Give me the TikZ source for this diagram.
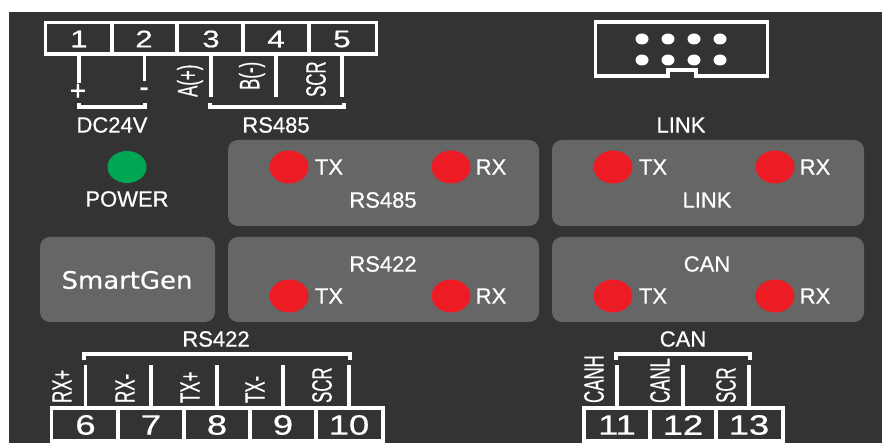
\documentclass[tikz,border=0pt]{standalone}
\usepackage{fontspec}
\setmainfont{Liberation Sans}[FakeBold=0.6]
\newfontfamily\logofont{DejaVu Sans}[FakeBold=0.5]
\definecolor{panelbg}{HTML}{333333}
\definecolor{panelgray}{HTML}{666666}
\definecolor{ledred}{HTML}{ED1C24}
\definecolor{ledgreen}{HTML}{00A651}
\tikzset{
    wire/.style={draw=white, line width=3.4pt},
    panel/.style={fill=panelgray, rounded corners=10pt},
    lbl/.style={text=white, font=\fontsize{22}{22}\selectfont, inner sep=0pt},
    digit/.style={text=white, inner sep=0pt, xscale=1.3},
    pinlbl/.style={text=white, font=\fontsize{28}{28}\selectfont, inner sep=0pt, rotate=90, anchor=west, xscale=.6}
}
\begin{document}
\begin{tikzpicture}[x=1pt, y=-1pt]
\useasboundingbox (0,0) rectangle (882,443);
\fill[white](0,0) rectangle (882,443);
\fill[panelbg](9,12) rectangle (882,443);

% top terminal
\draw[wire](45.5,22.5) rectangle (376.5,54);
\foreach \x in {112,177,243,309}
{
    \draw[wire](\x,22.5)--(\x,54);
}
\foreach \x/\n in {79/1,144/2,211/3,276/4,342/5}
{
    \node[digit, font=\fontsize{24}{24}\selectfont] (top\n) at (\x,39) {\n};
}
\draw[wire](79,54)--(79,83);
\draw[wire](144.5,54)--(144.5,81);
\draw[wire](79,103)--(79,107)--(145,107)--(145,103);
\node[lbl, font=\fontsize{28}{28}\selectfont] (plus) at (78,92) {+};
\node[lbl, font=\fontsize{28}{28}\selectfont] (minus) at (144,92) {-};
\node[lbl] (dcv) at (112,125) {DC24V};
\foreach \x in {211,276,342}
{
    \draw[wire](\x,54)--(\x,97);
}
\draw[wire](210,103)--(210,107)--(344,107)--(344,103);
\node[pinlbl] (ap) at (190,97) {A(+)};
\node[pinlbl] (bm) at (252,90) {B(-)};
\node[pinlbl] (scra) at (316,97) {SCR};
\node[lbl] (rsa) at (276,125) {RS485};

% link socket
\draw[wire](595.5,22) rectangle (767.5,76);
\draw[panelbg, line width=3.6pt](670,76)--(694,76);
\draw[wire](668,76)--(668,70)--(696,70)--(696,76);
\foreach \x in {642,668,694,720}
{
    \fill[white](\x,39) ellipse (6.5 and 5.5);
    \fill[white](\x,60) ellipse (6.5 and 5.5);
}
\node[lbl] (linka) at (681,125) {LINK};

% panels
\fill[panel](228,140) rectangle (539,226);
\fill[panel](552,140) rectangle (864,226);
\fill[panel](40,237) rectangle (215,322);
\fill[panel](228,237) rectangle (539,322);
\fill[panel](552,237) rectangle (864,322);

\fill[ledgreen](127,167) ellipse (19.5 and 16);
\node[lbl] (power) at (127,199) {POWER};
\node[text=white, xscale=1.08, font=\logofont\fontsize{24}{24}\selectfont] (logo) at (127,280) {SmartGen};

\foreach \x/\y in {289/167,451/167,613/167,775/167,289/296,451/296,613/296,775/296}
{
    \fill[ledred](\x,\y) ellipse (19.5 and 16.5);
}
\foreach \x in {329,653}
{
    \node[lbl] at (\x,167) {TX};
    \node[lbl] at (\x,296) {TX};
}
\foreach \x in {491,815}
{
    \node[lbl] at (\x,167) {RX};
    \node[lbl] at (\x,296) {RX};
}
\node[lbl] (rsb) at (383,200) {RS485};
\node[lbl] (linkb) at (707,200) {LINK};
\node[lbl] (rsc) at (383,264) {RS422};
\node[lbl] (canb) at (707,264) {CAN};

% bottom terminals
\draw[wire](51.5,408) rectangle (383,441);
\foreach \x in {118,184,250,316}
{
    \draw[wire](\x,408)--(\x,441);
}
\foreach \x/\n in {85.5/6,151/7,217/8,283/9,349/10}
{
    \node[digit, font=\fontsize{28}{28}\selectfont] (bot\n) at (\x,425) {\n};
    \draw[wire](\x,365)--(\x,408);
}
\draw[wire](84,360)--(84,354)--(350,354)--(350,360);
\node[lbl] (rsd) at (216,339) {RS422};
\foreach \x/\t/\n in {62/RX+/a,125/RX-/b,190/TX+/c,255/TX-/d,322/SCR/e}
{
    \node[pinlbl] (pin\n) at (\x,403) {\t};
}

\draw[wire](584,408) rectangle (783,441);
\foreach \x in {650,716}
{
    \draw[wire](\x,408)--(\x,441);
}
\foreach \x/\n in {617/11,683/12,749/13}
{
    \node[digit, font=\fontsize{28}{28}\selectfont] (bot\n) at (\x,425) {\n};
    \draw[wire](\x,365)--(\x,408);
}
\draw[wire](616,360)--(616,354)--(750,354)--(750,360);
\node[lbl] (cana) at (683,339) {CAN};
\foreach \x/\t/\n in {594/CANH/f,660/CANL/g,726/SCR/h}
{
    \node[pinlbl] (pin\n) at (\x,403) {\t};
}
\end{tikzpicture}
\end{document}
